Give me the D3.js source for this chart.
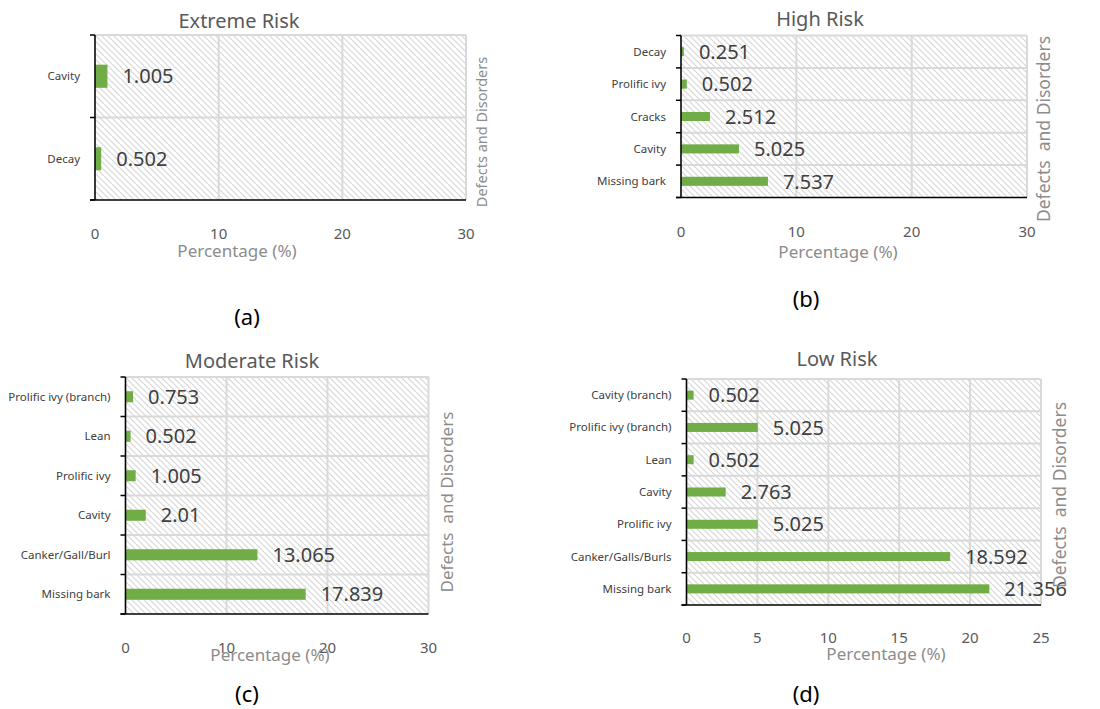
<!DOCTYPE html>
<html>
<head>
<meta charset="utf-8">
<script src="https://cdn.jsdelivr.net/npm/d3@7"></script>
<style>
  body { margin: 0; background: #fff; }
  text { font-family: "Noto Sans", "Open Sans", sans-serif; }
</style>
</head>
<body>
<div id="chart"></div>
<script>
// data, listed top to bottom as in the picture
var catsA = ["Cavity", "Decay"];
var valsA = [1.005, 0.502];
var catsB = ["Decay", "Prolific ivy", "Cracks", "Cavity", "Missing bark"];
var valsB = [0.251, 0.502, 2.512, 5.025, 7.537];
var catsC = ["Prolific ivy (branch)", "Lean", "Prolific ivy", "Cavity", "Canker/Gall/Burl", "Missing bark"];
var valsC = [0.753, 0.502, 1.005, 2.01, 13.065, 17.839];
var catsD = ["Cavity (branch)", "Prolific ivy (branch)", "Lean", "Cavity", "Prolific ivy", "Canker/Galls/Burls", "Missing bark"];
var valsD = [0.502, 5.025, 0.502, 2.763, 5.025, 18.592, 21.356];
var ticksA = [0, 10, 20, 30];
var ticksD = [0, 5, 10, 15, 20, 25];

var W = 1100, H = 709;
var svg = d3.select("#chart").append("svg").attr("width", W).attr("height", H);

// hatch pattern for plot background
var pat = svg.append("defs").append("pattern")
  .attr("id", "hatch")
  .attr("patternUnits", "userSpaceOnUse")
  .attr("width", 6).attr("height", 6);
pat.append("rect").attr("width", 6).attr("height", 6).attr("fill", "#fff");
pat.append("path").attr("d", "M-1,-1 L7,7 M-1,5 L1,7 M5,-1 L7,1")
  .attr("stroke", "#d6d6d6").attr("stroke-width", 1.1);

var panels = [
  { title: "Extreme Risk", cats: catsA, vals: valsA, ticks: ticksA, max: 30,
    x0: 95, x1: 466, y0: 35, y1: 200, titleX: 239, titleY: 28,
    xlabX: 237, xlabY: 257, tag: "(a)", tagX: 247, tagY: 325,
    ylab: "Defects and Disorders", ylabX: 482, ylabY: 132, ylabSize: 14.5, tickY: 239 },
  { title: "High Risk", cats: catsB, vals: valsB, ticks: ticksA, max: 30,
    x0: 681, x1: 1027, y0: 35.5, y1: 197.5, titleX: 820, titleY: 26,
    xlabX: 838, xlabY: 258, tag: "(b)", tagX: 806, tagY: 307,
    ylab: "Defects  and Disorders", ylabX: 1044, ylabY: 129, ylabSize: 17.5, tickY: 237 },
  { title: "Moderate Risk", cats: catsC, vals: valsC, ticks: ticksA, max: 30,
    x0: 125.5, x1: 428.5, y0: 377, y1: 614, titleX: 252, titleY: 368,
    xlabX: 270, xlabY: 661, tag: "(c)", tagX: 247, tagY: 702,
    ylab: "Defects  and Disorders", ylabX: 447, ylabY: 502, ylabSize: 17, tickY: 653 },
  { title: "Low Risk", cats: catsD, vals: valsD, ticks: ticksD, max: 25,
    x0: 686.5, x1: 1041, y0: 379, y1: 605, titleX: 837, titleY: 366,
    xlabX: 886, xlabY: 660, tag: "(d)", tagX: 806, tagY: 702,
    ylab: "Defects  and Disorders", ylabX: 1060, ylabY: 495, ylabSize: 17.5, tickY: 643 }
];

panels.forEach(drawPanel);

function drawPanel(p) {
  var g = svg.append("g");
  var x = d3.scaleLinear().domain([0, p.max]).range([p.x0, p.x1]);
  var y = d3.scaleBand().domain(p.cats).range([p.y0, p.y1])
    .paddingInner(0.72).paddingOuter(0.36);
  var step = y.step();

  // background
  g.append("rect")
    .attr("x", p.x0).attr("y", p.y0)
    .attr("width", p.x1 - p.x0).attr("height", p.y1 - p.y0)
    .attr("fill", "url(#hatch)");

  // vertical grid
  g.selectAll(".vg").data(p.ticks).enter().append("line")
    .attr("x1", function (d) { return x(d); })
    .attr("x2", function (d) { return x(d); })
    .attr("y1", p.y0).attr("y2", p.y1)
    .attr("stroke", "#d9d9d9").attr("stroke-width", 2);

  // horizontal grid at category boundaries
  var bounds = d3.range(p.cats.length + 1).map(function (i) { return p.y0 + i * step; });
  g.selectAll(".hg").data(bounds.slice(0, -1)).enter().append("line")
    .attr("x1", p.x0).attr("x2", p.x1)
    .attr("y1", function (d) { return d; })
    .attr("y2", function (d) { return d; })
    .attr("stroke", "#d9d9d9").attr("stroke-width", 2);

  // bars
  g.selectAll(".bar").data(p.vals).enter().append("rect")
    .attr("x", p.x0)
    .attr("y", function (d, i) { return y(p.cats[i]); })
    .attr("width", function (d) { return x(d) - p.x0; })
    .attr("height", y.bandwidth())
    .attr("fill", "#70ad47");

  // value labels
  g.selectAll(".val").data(p.vals).enter().append("text")
    .attr("x", function (d) { return x(d) + 15; })
    .attr("y", function (d, i) { return y(p.cats[i]) + y.bandwidth() / 2; })
    .attr("dy", "0.36em")
    .attr("font-size", 20)
    .attr("fill", "#404040")
    .text(function (d) { return d; });

  // left axis with ticks at boundaries
  g.append("line").attr("x1", p.x0).attr("x2", p.x0)
    .attr("y1", p.y0).attr("y2", p.y1)
    .attr("stroke", "#000").attr("stroke-width", 1.5);
  g.selectAll(".lt").data(bounds).enter().append("line")
    .attr("x1", p.x0 - 5).attr("x2", p.x0)
    .attr("y1", function (d) { return d; })
    .attr("y2", function (d) { return d; })
    .attr("stroke", "#000").attr("stroke-width", 1.5);
  // bottom axis
  g.append("line").attr("x1", p.x0 - 5).attr("x2", p.x1)
    .attr("y1", p.y1).attr("y2", p.y1)
    .attr("stroke", "#000").attr("stroke-width", 1.5);

  // category labels
  g.selectAll(".cat").data(p.cats).enter().append("text")
    .attr("x", p.x0 - 15)
    .attr("y", function (d) { return y(d) + y.bandwidth() / 2; })
    .attr("dy", "0.35em")
    .attr("text-anchor", "end")
    .attr("font-size", 11.5)
    .attr("fill", "#404040")
    .text(function (d) { return d; });

  // x tick labels
  g.selectAll(".xt").data(p.ticks).enter().append("text")
    .attr("x", function (d) { return x(d); })
    .attr("y", p.tickY)
    .attr("text-anchor", "middle")
    .attr("font-size", 15)
    .attr("fill", "#595959")
    .text(function (d) { return d; });

  // titles
  g.append("text").attr("x", p.titleX).attr("y", p.titleY)
    .attr("text-anchor", "middle").attr("font-size", 20)
    .attr("fill", "#595959").text(p.title);
  g.append("text").attr("x", p.xlabX).attr("y", p.xlabY)
    .attr("text-anchor", "middle").attr("font-size", 17)
    .attr("fill", "#8c8c8c").text("Percentage (%)");
  g.append("text")
    .attr("transform", "translate(" + p.ylabX + "," + p.ylabY + ") rotate(-90)")
    .attr("dy", "0.35em")
    .attr("text-anchor", "middle").attr("font-size", p.ylabSize)
    .attr("fill", "#8c8c8c").style("white-space", "pre")
    .text(p.ylab);
  g.append("text").attr("x", p.tagX).attr("y", p.tagY)
    .attr("text-anchor", "middle").attr("font-size", 22)
    .attr("fill", "#000").text(p.tag);
}
</script>
</body>
</html>
